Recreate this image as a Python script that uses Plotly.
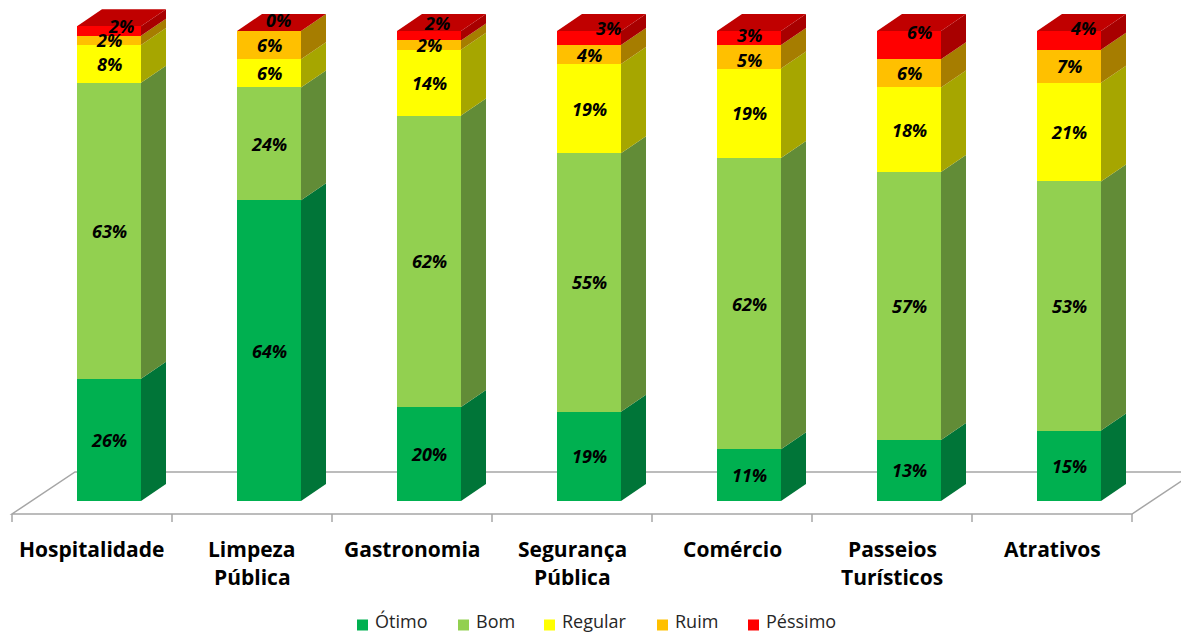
import plotly.graph_objects as go

# --- data -------------------------------------------------------------------
categories = ["Hospitalidade", "Limpeza<br>Pública", "Gastronomia", "Segurança<br>Pública",
              "Comércio", "Passeios<br>Turísticos", "Atrativos"]
otimo = [26, 64, 20, 19, 11, 13, 15]
bom = [63, 24, 62, 55, 62, 57, 53]
regular = [8, 6, 14, 19, 19, 18, 21]
ruim = [2, 6, 2, 4, 5, 6, 7]
pessimo = [2, 0, 2, 3, 3, 6, 4]
series_names = ["Ótimo", "Bom", "Regular", "Ruim", "Péssimo"]

# --- styling ----------------------------------------------------------------
front_colors = ["#00B050", "#92D050", "#FFFF00", "#FFC000", "#FF0000"]
side_colors = ["#007538", "#628C37", "#A6A600", "#A67D00", "#A80000"]
top_color = "#C00000"
floor_color = "#A6A6A6"
FONT = "Open Sans"

W, H = 1181, 635
X0_PX, Y0_PX = 109, 501          # pixel of first bar centre / of the 0 % baseline
PX_X, PX_Y = 160, 4.7            # pixels per category step / per percent
BAR_W = 64 / PX_X
DX, DY = 25 / PX_X, 17 / PX_Y    # 3-D depth of each column
FLOOR_FRONT = -13 / PX_Y         # floor front edge, below the baseline
FLOOR_DX, FLOOR_DY = 63 / PX_X, 42 / PX_Y
FLOOR_LEFT = -97 / PX_X
TICK_LEN = 8 / PX_Y

# top-series labels sit slightly up/right, towards the top face (pixels)
top_label_shift = [(12, 5), (9, 11), (8, 13), (19, 10), (0, 3), (10, 13), (14, 12)]

# legend row: left edge of each swatch (px), swatch centre row (px), swatch size (px)
LEGEND_X = [357, 458, 544, 657, 748]
LEGEND_Y = 625
SWATCH = 11

series = [otimo, bom, regular, ruim, pessimo]
n = len(categories)
xs = list(range(n))

fig = go.Figure()
shapes = []

# floor outline (drawn under everything)
fl = (FLOOR_LEFT, FLOOR_FRONT)
fr = (FLOOR_LEFT + n, FLOOR_FRONT)
br = (FLOOR_LEFT + n + FLOOR_DX, FLOOR_FRONT + FLOOR_DY)
bl = (FLOOR_LEFT + FLOOR_DX, FLOOR_FRONT + FLOOR_DY)
shapes.append(dict(type="path", layer="below", xref="x", yref="y",
                   path=f"M {fl[0]},{fl[1]} L {fr[0]},{fr[1]} L {br[0]},{br[1]} L {bl[0]},{bl[1]} Z",
                   line=dict(color=floor_color, width=1.5), fillcolor="rgba(0,0,0,0)"))
for k in range(n + 1):
    xb = FLOOR_LEFT + k
    shapes.append(dict(type="line", layer="below", xref="x", yref="y",
                       x0=xb, x1=xb, y0=FLOOR_FRONT, y1=FLOOR_FRONT - TICK_LEN,
                       line=dict(color=floor_color, width=1.5)))

# front faces as stacked bars, side and top faces as shapes
annotations = []
base = [0.0] * n
for s, (name, vals) in enumerate(zip(series_names, series)):
    fig.add_trace(go.Bar(x=xs, y=vals, name=name, width=BAR_W,
                         marker=dict(color=front_colors[s], line=dict(width=0)),
                         hoverinfo="name+y"))
    for i, v in enumerate(vals):
        y0, y1 = base[i], base[i] + v
        xr = i + BAR_W / 2
        if v > 0:
            shapes.append(dict(type="path", layer="below", xref="x", yref="y",
                               path=f"M {xr},{y0} L {xr + DX},{y0 + DY} L {xr + DX},{y1 + DY} L {xr},{y1} Z",
                               fillcolor=side_colors[s], line=dict(width=0)))
        shift = top_label_shift[i] if s == len(series) - 1 else (0, 0)
        if name == "Ruim" and i == 4:
            shift = (0, -3)
        annotations.append(dict(x=i, y=(y0 + y1) / 2, xref="x", yref="y", text=f"{v}%",
                                showarrow=False, xshift=shift[0], yshift=shift[1],
                                font=dict(family=FONT, size=18, color="black",
                                          weight="bold", style="italic")))
        base[i] = y1

for i in range(n):
    xl, xr, top = i - BAR_W / 2, i + BAR_W / 2, base[i]
    shapes.append(dict(type="path", layer="below", xref="x", yref="y",
                       path=f"M {xl},{top} L {xr},{top} L {xr + DX},{top + DY} L {xl + DX},{top + DY} Z",
                       fillcolor=top_color, line=dict(width=0)))

# category labels under the floor
for i, cat in enumerate(categories):
    for k, line in enumerate(cat.split("<br>")):
        annotations.append(dict(x=i - 0.105, xref="x", yref="paper",
                                y=1 - (549 + 28 * k) / H, yanchor="middle",
                                text=line, showarrow=False,
                                font=dict(family=FONT, size=21, color="black", weight="bold")))

# legend row: coloured swatch followed by the series name
for name, color, lx in zip(series_names, front_colors, LEGEND_X):
    shapes.append(dict(type="rect", xref="paper", yref="paper",
                       x0=lx / W, x1=(lx + SWATCH) / W,
                       y0=1 - (LEGEND_Y + SWATCH / 2) / H, y1=1 - (LEGEND_Y - SWATCH / 2) / H,
                       fillcolor=color, line=dict(width=0)))
    annotations.append(dict(x=(lx + SWATCH + 5) / W, y=0, xref="paper", yref="paper",
                            xanchor="left", yanchor="bottom", text=name, showarrow=False,
                            font=dict(family=FONT, size=18, color="#262626")))

fig.update_layout(
    width=W, height=H,
    margin=dict(l=0, r=0, t=0, b=0),
    barmode="stack",
    paper_bgcolor="white", plot_bgcolor="white",
    xaxis=dict(range=[-X0_PX / PX_X, (W - X0_PX) / PX_X], visible=False, fixedrange=True),
    yaxis=dict(range=[(Y0_PX - H) / PX_Y, Y0_PX / PX_Y], visible=False, fixedrange=True),
    shapes=shapes,
    annotations=annotations,
    showlegend=False,
)

fig.write_html("out.html")
